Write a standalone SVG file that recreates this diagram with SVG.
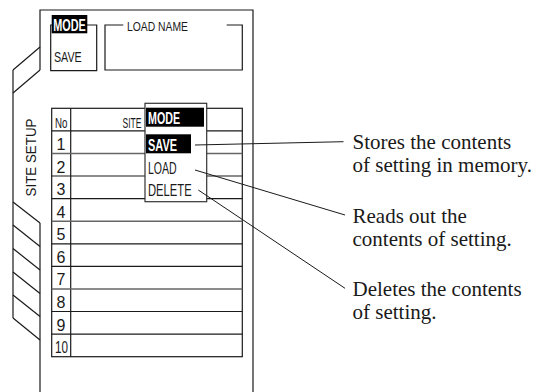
<svg xmlns="http://www.w3.org/2000/svg" width="540" height="392" viewBox="0 0 540 392">
<style>
.ln{fill:none;stroke:#1a1a1a;stroke-width:1.2}
.cnd{font-family:"Liberation Sans Narrow","Liberation Sans",Arial,sans-serif;fill:#1a1a1a}
.num{font-family:"Liberation Sans Narrow","Liberation Sans",Arial,sans-serif;font-size:16px;fill:#1a1a1a;text-anchor:middle}
.inv{font-family:"Liberation Sans Narrow","Liberation Sans",Arial,sans-serif;font-weight:bold;fill:#fff}
.desc{font-family:"Liberation Serif","Times New Roman",serif;font-size:21px;fill:#1a1a1a}
.conn{fill:none;stroke:#1a1a1a;stroke-width:1}
</style>
<rect width="540" height="392" fill="#fff"/>
<g id="panel">
<polyline class="ln" points="40,70 40,10 253,10 253,392"/>
<line class="ln" x1="40" y1="47" x2="13" y2="70"/>
<line class="ln" x1="40" y1="70" x2="13" y2="93"/>
<line class="ln" x1="13" y1="70" x2="13" y2="318"/>
<line class="ln" x1="40" y1="223" x2="40" y2="392"/>
<line class="ln" x1="13" y1="202" x2="40" y2="223"/>
<line class="ln" x1="13" y1="225" x2="40" y2="246.5"/>
<line class="ln" x1="13" y1="248.5" x2="40" y2="270"/>
<line class="ln" x1="13" y1="272" x2="40" y2="293.5"/>
<line class="ln" x1="13" y1="295" x2="40" y2="316.5"/>
<line class="ln" x1="13" y1="318" x2="40" y2="340"/>
<text class="cnd" font-size="15" transform="translate(35.5,157.5) rotate(-90)" text-anchor="middle" textLength="78" lengthAdjust="spacingAndGlyphs">SITE SETUP</text>
</g>
<g id="mode-box">
<polyline class="ln" points="87,25 96.7,25 96.7,70.7 50.7,70.7 50.7,25 52,25"/>
<rect x="51.7" y="15" width="35.6" height="18.3" fill="#000"/>
<text class="inv" x="53.3" y="31.2" font-size="16" textLength="32.5" lengthAdjust="spacingAndGlyphs">MODE</text>
<text class="cnd" x="54" y="61.5" font-size="15" textLength="27.7" lengthAdjust="spacingAndGlyphs">SAVE</text>
</g>
<g id="load-name-box">
<polyline class="ln" points="123.3,25 105,25 105,70 242.3,70 242.3,25 226.7,25"/>
<text class="cnd" x="127" y="30.7" font-size="13.5" textLength="61" lengthAdjust="spacingAndGlyphs">LOAD NAME</text>
</g>
<g id="site-table">
<rect class="ln" x="51.7" y="108.3" width="190.6" height="248.4"/>
<line class="ln" x1="70.7" y1="108.3" x2="70.7" y2="356.7"/>
<g class="ln">
<line x1="51.7" y1="130.9" x2="242.3" y2="130.9"/>
<line x1="51.7" y1="153.5" x2="242.3" y2="153.5" stroke="#666" stroke-width="1.6"/>
<line x1="51.7" y1="176.0" x2="242.3" y2="176.0"/>
<line x1="51.7" y1="198.6" x2="242.3" y2="198.6"/>
<line x1="51.7" y1="221.2" x2="242.3" y2="221.2" stroke="#666" stroke-width="1.6"/>
<line x1="51.7" y1="243.8" x2="242.3" y2="243.8"/>
<line x1="51.7" y1="266.4" x2="242.3" y2="266.4"/>
<line x1="51.7" y1="289.0" x2="242.3" y2="289.0" stroke="#666" stroke-width="1.6"/>
<line x1="51.7" y1="311.5" x2="242.3" y2="311.5"/>
<line x1="51.7" y1="334.1" x2="242.3" y2="334.1"/>
</g>
<text class="cnd" x="55" y="128" font-size="15" textLength="12.5" lengthAdjust="spacingAndGlyphs">No</text>
<text class="cnd" x="122.5" y="128" font-size="14" textLength="19" lengthAdjust="spacingAndGlyphs">SITE</text>
<text class="num" x="61" y="150">1</text>
<text class="num" x="61" y="172.5">2</text>
<text class="num" x="61" y="195">3</text>
<text class="num" x="61" y="217.6">4</text>
<text class="num" x="61" y="240.2">5</text>
<text class="num" x="61" y="262.8">6</text>
<text class="num" x="61" y="285.4">7</text>
<text class="num" x="61" y="308">8</text>
<text class="num" x="61" y="330.5">9</text>
<text class="num" x="61.5" y="353.1" textLength="13" lengthAdjust="spacingAndGlyphs">10</text>
</g>
<g id="mode-menu">
<rect x="145" y="103.3" width="61.7" height="98.4" fill="#fff" stroke="#333" stroke-width="1.2"/>
<rect x="146" y="107.7" width="58" height="19" fill="#000"/>
<text class="inv" x="148" y="124.3" font-size="16" textLength="32" lengthAdjust="spacingAndGlyphs">MODE</text>
<rect x="146" y="134.3" width="45" height="19" fill="#000"/>
<text class="inv" x="148" y="151" font-size="16" textLength="29" lengthAdjust="spacingAndGlyphs">SAVE</text>
<text class="cnd" x="148" y="174.3" font-size="16" textLength="28.7" lengthAdjust="spacingAndGlyphs">LOAD</text>
<text class="cnd" x="148" y="195.7" font-size="16" textLength="43.7" lengthAdjust="spacingAndGlyphs">DELETE</text>
</g>
<g id="connectors">
<line class="conn" x1="195" y1="145" x2="343.5" y2="141.7"/>
<line class="conn" x1="195" y1="170" x2="345" y2="215"/>
<line class="conn" x1="198.3" y1="190" x2="345" y2="288.3"/>
</g>
<g id="note-save">
<text class="desc" x="352.5" y="149">Stores the contents</text>
<text class="desc" x="352.5" y="172">of setting in memory.</text>
</g>
<g id="note-load">
<text class="desc" x="352.5" y="222.5">Reads out the</text>
<text class="desc" x="352.5" y="246">contents of setting.</text>
</g>
<g id="note-delete">
<text class="desc" x="352.5" y="295.7">Deletes the contents</text>
<text class="desc" x="352.5" y="319">of setting.</text>
</g>
</svg>
